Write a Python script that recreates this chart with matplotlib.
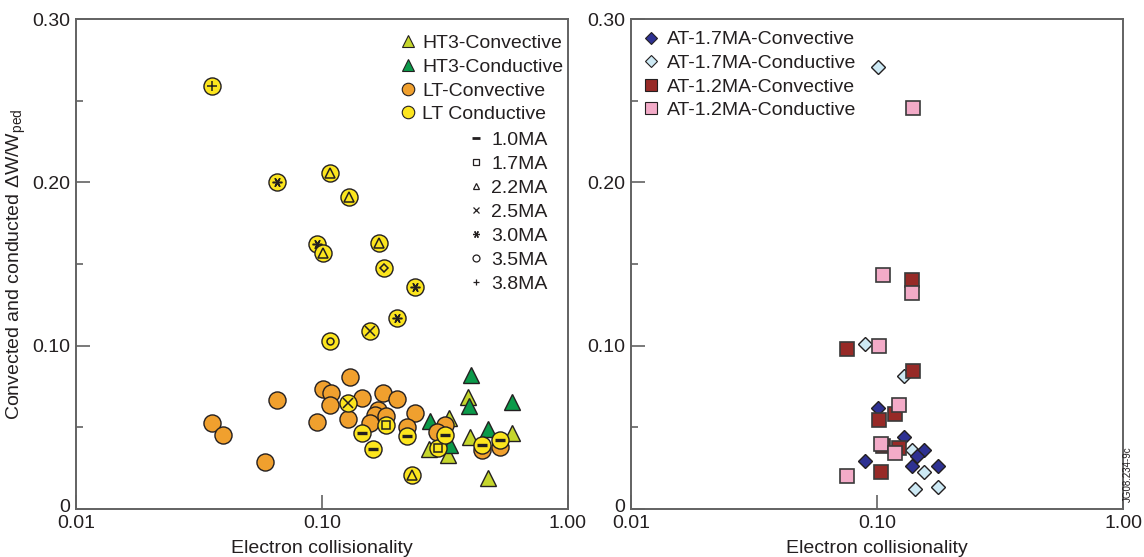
import matplotlib
matplotlib.use('Agg')
import matplotlib.pyplot as plt
import matplotlib.transforms as mtransforms
from matplotlib.lines import Line2D
from matplotlib.ticker import FixedLocator, NullLocator

plt.rcParams['font.family'] = ['Liberation Sans', 'DejaVu Sans']
plt.rcParams['mathtext.default'] = 'regular'

# ---- left panel data (HT3 / LT) ----
ht3_conv_x = [0.393, 0.329, 0.273, 0.326, 0.40, 0.594, 0.475]
ht3_conv_y = [0.0685, 0.0557, 0.037, 0.033, 0.044, 0.0465, 0.019]
ht3_cond_x = [0.405, 0.397, 0.594, 0.276, 0.475, 0.332]
ht3_cond_y = [0.082, 0.063, 0.0655, 0.054, 0.049, 0.039]

lt_conv_x = [0.0358, 0.0395, 0.0586, 0.0655, 0.0954, 0.101, 0.109, 0.108, 0.130, 0.128,
             0.1455, 0.177, 0.202, 0.169, 0.164, 0.182, 0.157, 0.239, 0.222, 0.317,
             0.294, 0.448, 0.53]
lt_conv_y = [0.0526, 0.0453, 0.0288, 0.0667, 0.0535, 0.0734, 0.071, 0.0636, 0.0808, 0.055,
             0.068, 0.071, 0.0673, 0.0606, 0.0575, 0.057, 0.0526, 0.0588, 0.050, 0.0514,
             0.047, 0.036, 0.038]

lt_cond_x = [0.0358, 0.0655, 0.1078, 0.1288, 0.0954, 0.101, 0.171, 0.179, 0.239, 0.202,
             0.157, 0.1078, 0.128, 0.1455, 0.182, 0.161, 0.222, 0.2325, 0.297, 0.317,
             0.448, 0.53]
lt_cond_y = [0.259, 0.200, 0.2056, 0.191, 0.162, 0.157, 0.163, 0.1475, 0.136, 0.117,
             0.109, 0.103, 0.065, 0.0465, 0.0514, 0.037, 0.0447, 0.0208, 0.0373, 0.0453,
             0.039, 0.042]
lt_cond_ip = ['3.8MA', '3.0MA', '2.2MA', '2.2MA', '3.0MA', '2.2MA', '2.2MA', 'other', '3.0MA', '3.0MA',
              '2.5MA', '3.5MA', '2.5MA', '1.0MA', '1.7MA', '1.0MA', '1.0MA', '2.2MA', '1.7MA', '1.0MA',
              '1.0MA', '1.0MA']

currents = ['1.0MA', '1.7MA', '2.2MA', '2.5MA', '3.0MA', '3.5MA', '3.8MA']

# ---- right panel data (AT) ----
at17_conv_x = [0.101, 0.129, 0.155, 0.146, 0.0894, 0.139, 0.177]
at17_conv_y = [0.0618, 0.044, 0.036, 0.0324, 0.0294, 0.0263, 0.0263]
at17_cond_x = [0.101, 0.0894, 0.129, 0.139, 0.155, 0.143, 0.177]
at17_cond_y = [0.2705, 0.101, 0.0814, 0.036, 0.0226, 0.0122, 0.0135]
at12_conv_x = [0.139, 0.0755, 0.140, 0.118, 0.102, 0.106, 0.123, 0.104]
at12_conv_y = [0.140, 0.098, 0.0845, 0.058, 0.0545, 0.0386, 0.0373, 0.0226]
at12_cond_x = [0.140, 0.106, 0.139, 0.102, 0.123, 0.104, 0.118, 0.0755]
at12_cond_y = [0.2454, 0.143, 0.132, 0.0998, 0.0636, 0.040, 0.0343, 0.020]

c_ht3_conv = '#c5d62c'
c_ht3_cond = '#0b9a4a'
c_lt_conv = '#f0a02e'
c_lt_cond = '#fce51e'
c_at17_conv = '#2e3192'
c_at17_cond = '#cde9f4'
c_at12_conv = '#972a27'
c_at12_cond = '#f3abc8'
edge = '#231f20'
frame = '#626262'
fs = 14

inner = {'1.0MA': '_', '1.7MA': 's', '2.2MA': '^', '2.5MA': 'x',
         '3.0MA': (6, 2, 90), '3.5MA': 'o', '3.8MA': '+', 'other': 'D'}
inner_ms = {'1.0MA': 7, '1.7MA': 6, '2.2MA': 6.5, '2.5MA': 6.5,
            '3.0MA': 7, '3.5MA': 5, '3.8MA': 7.5, 'other': 4.5}

fig = plt.figure(figsize=(11.44, 5.57), dpi=100)
ax1 = fig.add_axes([76/1144, 1 - 509/557, 492/1144, 490/557])
ax2 = fig.add_axes([631/1144, 1 - 509/557, 492/1144, 490/557])

for ax in (ax1, ax2):
    ax.set_xscale('log')
    ax.set_xlim(0.01, 1.0)
    ax.set_ylim(0, 0.30)
    ax.xaxis.set_major_locator(FixedLocator([0.01, 0.1, 1.0]))
    ax.xaxis.set_minor_locator(NullLocator())
    ax.set_xticklabels(['0.01', '0.10', '1.00'])
    ax.yaxis.set_major_locator(FixedLocator([0, 0.1, 0.2, 0.3]))
    ax.yaxis.set_minor_locator(FixedLocator([0.05, 0.15, 0.25]))
    ax.set_yticklabels(['0', '0.10', '0.20', '0.30'])
    ax.tick_params(which='major', direction='in', length=10, width=1.2, color=frame,
                   labelsize=fs, labelcolor=edge, pad=4)
    ax.tick_params(which='minor', direction='in', length=5, width=1.2, color=frame)
    for sp in ax.spines.values():
        sp.set_color(frame)
        sp.set_linewidth(1.4)
    ax.set_xlabel('Electron collisionality', fontsize=fs, color=edge, labelpad=6)
    # lift the "0" label a little, as in the original
    zero = ax.get_yticklabels()[0]
    zero.set_transform(zero.get_transform() + mtransforms.ScaledTranslation(0, 4/100, fig.dpi_scale_trans))

ax1.set_ylabel('Convected and conducted ΔW/W$_{ped}$', fontsize=fs, color=edge, labelpad=3)

# left panel markers
ax1.plot(ht3_conv_x, ht3_conv_y, ls='none', marker='^', ms=11.5, mfc=c_ht3_conv, mec=edge, mew=1.0, zorder=3)
ax1.plot(ht3_cond_x, ht3_cond_y, ls='none', marker='^', ms=11.5, mfc=c_ht3_cond, mec=edge, mew=1.0, zorder=3)
ax1.plot(lt_conv_x, lt_conv_y, ls='none', marker='o', ms=12.3, mfc=c_lt_conv, mec=edge, mew=1.0, zorder=4)
for x, y, ip in zip(lt_cond_x, lt_cond_y, lt_cond_ip):
    ax1.plot([x], [y], ls='none', marker='o', ms=12.3, mfc=c_lt_cond, mec=edge, mew=1.0, zorder=5)
    lw = 2.4 if ip == '1.0MA' else 1.1
    ax1.plot([x], [y], ls='none', marker=inner[ip], ms=inner_ms[ip], mfc='none', mec=edge,
             mew=lw, zorder=5)

h1 = [Line2D([], [], ls='none', marker='^', ms=9, mfc=c_ht3_conv, mec=edge, mew=0.8),
      Line2D([], [], ls='none', marker='^', ms=9, mfc=c_ht3_cond, mec=edge, mew=0.8),
      Line2D([], [], ls='none', marker='o', ms=9, mfc=c_lt_conv, mec=edge, mew=0.8),
      Line2D([], [], ls='none', marker='o', ms=9, mfc=c_lt_cond, mec=edge, mew=0.8)]
leg1 = ax1.legend(h1, ['HT3-Convective', 'HT3-Conductive', 'LT-Convective', 'LT Conductive'],
                  loc='upper left', bbox_to_anchor=(0.656, 0.968), frameon=False, fontsize=fs,
                  handlelength=0.95, handletextpad=0.25, labelspacing=0.31, borderpad=0,
                  borderaxespad=0, labelcolor=edge)
ax1.add_artist(leg1)

h2 = [Line2D([], [], ls='none', marker=inner[c], ms=5 if c != '1.0MA' else 6, mfc='none', mec=edge,
             mew=2.0 if c == '1.0MA' else 0.9) for c in currents]
ax1.legend(h2, currents, loc='upper left', bbox_to_anchor=(0.795, 0.771), frameon=False,
           fontsize=fs, handlelength=0.95, handletextpad=0.3, labelspacing=0.33, borderpad=0,
           borderaxespad=0, labelcolor=edge)

# right panel markers
ax2.plot(at17_cond_x, at17_cond_y, ls='none', marker='D', ms=7, mfc=c_at17_cond, mec=edge, mew=1.0, zorder=3)
ax2.plot(at17_conv_x, at17_conv_y, ls='none', marker='D', ms=7, mfc=c_at17_conv, mec=edge, mew=1.0, zorder=3)
ax2.plot(at12_conv_x, at12_conv_y, ls='none', marker='s', ms=10, mfc=c_at12_conv, mec='#3a3a3a', mew=1.2, zorder=4)
ax2.plot(at12_cond_x, at12_cond_y, ls='none', marker='s', ms=10, mfc=c_at12_cond, mec='#3a3a3a', mew=1.2, zorder=5)

h3 = [Line2D([], [], ls='none', marker='D', ms=6, mfc=c_at17_conv, mec=edge, mew=0.8),
      Line2D([], [], ls='none', marker='D', ms=6, mfc=c_at17_cond, mec=edge, mew=0.8),
      Line2D([], [], ls='none', marker='s', ms=8, mfc=c_at12_conv, mec=edge, mew=0.8),
      Line2D([], [], ls='none', marker='s', ms=8, mfc=c_at12_cond, mec=edge, mew=0.8)]
ax2.legend(h3, ['AT-1.7MA-Convective', 'AT-1.7MA-Conductive', 'AT-1.2MA-Convective', 'AT-1.2MA-Conductive'],
           loc='upper left', bbox_to_anchor=(0.02, 0.976), frameon=False, fontsize=fs,
           handlelength=1.0, handletextpad=0.35, labelspacing=0.31, borderpad=0,
           borderaxespad=0, labelcolor=edge)

fig.text(1128/1144, 1 - 474/557, 'JG08.234-9c', rotation=90, fontsize=7, color=edge,
         ha='center', va='center')

fig.savefig('out.png', dpi=100)
